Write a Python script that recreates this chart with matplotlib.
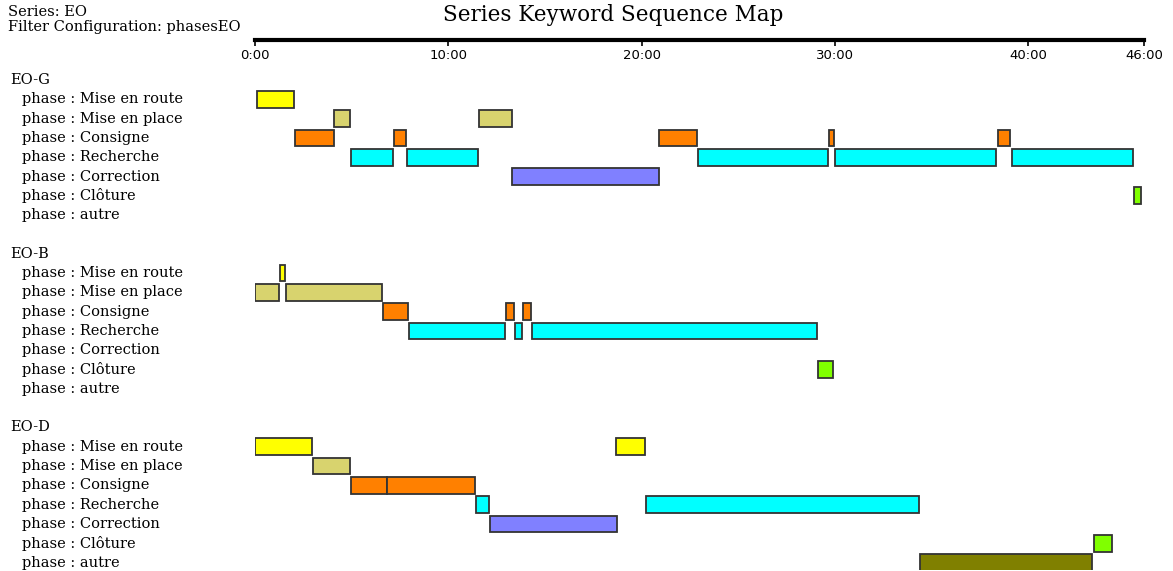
import matplotlib.pyplot as plt
import matplotlib.transforms as mtransforms

# phases and colours
phases = ['Mise en route', 'Mise en place', 'Consigne', 'Recherche',
          'Correction', 'Clôture', 'autre']
phase_colors = ['#ffff00', '#d8d36e', '#ff8000', '#00ffff',
                '#8080ff', '#80ff00', '#808000']

groups = ['EO-G', 'EO-B', 'EO-D']

# EO-G segments (minutes)
eog_phase = [0, 1, 1, 2, 2, 2, 2, 2, 3, 3, 3, 3, 3, 4, 5]
eog_start = [0.1, 4.1, 11.6, 2.07, 7.19, 20.93, 29.69, 38.43,
             4.97, 7.88, 22.91, 30.0, 39.15, 13.31, 45.5]
eog_end = [2.0, 4.93, 13.3, 4.07, 7.83, 22.85, 29.96, 39.08,
           7.12, 11.54, 29.64, 38.36, 45.45, 20.89, 45.87]

# EO-B segments
eob_phase = [0, 1, 1, 2, 2, 2, 3, 3, 3, 5]
eob_start = [1.28, 0.02, 1.6, 6.62, 13.0, 13.88, 7.97, 13.47, 14.35, 29.14]
eob_end = [1.54, 1.22, 6.59, 7.92, 13.41, 14.3, 12.95, 13.83, 29.09, 29.89]

# EO-D segments
eod_phase = [0, 0, 1, 2, 2, 3, 3, 4, 5, 6]
eod_start = [0.0, 18.7, 3.02, 4.98, 6.85, 11.43, 20.25, 12.14, 43.39, 34.41]
eod_end = [2.95, 20.2, 4.93, 6.85, 11.38, 12.09, 34.35, 18.71, 44.37, 43.31]

tick_vals = [0, 10, 20, 30, 40, 46]
tick_labels = ['0:00', '10:00', '20:00', '30:00', '40:00', '46:00']

W, H = 1173, 571
fig = plt.figure(figsize=(W / 100, H / 100), dpi=100)
fig.patch.set_facecolor('white')

serif = ['DejaVu Serif']

# main plotting area, positioned in pixels
x0, x1 = 255, 1144
row_h = 19.3
top_px = 80 - 0.5 * row_h
ylo, yhi = -0.5, 25.4
bot_px = top_px + (yhi - ylo) * row_h
ax = fig.add_axes([x0 / W, 1 - bot_px / H, (x1 - x0) / W, (bot_px - top_px) / H])
ax.set_xlim(0, 46)
ax.set_ylim(yhi, ylo)
ax.axis('off')

all_data = [(eog_phase, eog_start, eog_end),
            (eob_phase, eob_start, eob_end),
            (eod_phase, eod_start, eod_end)]

trans = mtransforms.blended_transform_factory(fig.transFigure, ax.transData)

for g, (ph, st, en) in enumerate(all_data):
    base = g * 9
    ax.text(10 / W, base, groups[g], transform=trans, va='center', ha='left',
            fontsize=10.5, family=serif)
    for p, name in enumerate(phases):
        ax.text(22 / W, base + 1 + p, 'phase : ' + name, transform=trans,
                va='center', ha='left', fontsize=10.5, family=serif)
    for p, s, e in zip(ph, st, en):
        ax.barh(base + 1 + p, e - s, left=s, height=0.87,
                color=phase_colors[p], edgecolor='#333333', linewidth=1.3)

# top time axis
line_y = 40
tax = fig.add_axes([x0 / W, 1 - line_y / H, (x1 - x0) / W, 0.001])
tax.set_xlim(0, 46)
for s in ['top', 'left', 'right']:
    tax.spines[s].set_visible(False)
tax.spines['bottom'].set_linewidth(3)
tax.set_yticks([])
tax.set_xticks(tick_vals)
tax.set_xticklabels(tick_labels, fontsize=9.5)
tax.tick_params(axis='x', direction='out', length=4.5, width=1.2, pad=2)
tax.patch.set_alpha(0)

fig.text(613 / W, 1 - 15 / H, 'Series Keyword Sequence Map', ha='center',
         va='center', fontsize=15.5, family=serif)
fig.text(8 / W, 1 - 12 / H, 'Series: EO', ha='left', va='center',
         fontsize=10.5, family=serif)
fig.text(8 / W, 1 - 27 / H, 'Filter Configuration: phasesEO', ha='left',
         va='center', fontsize=10.5, family=serif)

fig.savefig('out.png', dpi=100, facecolor='white')
